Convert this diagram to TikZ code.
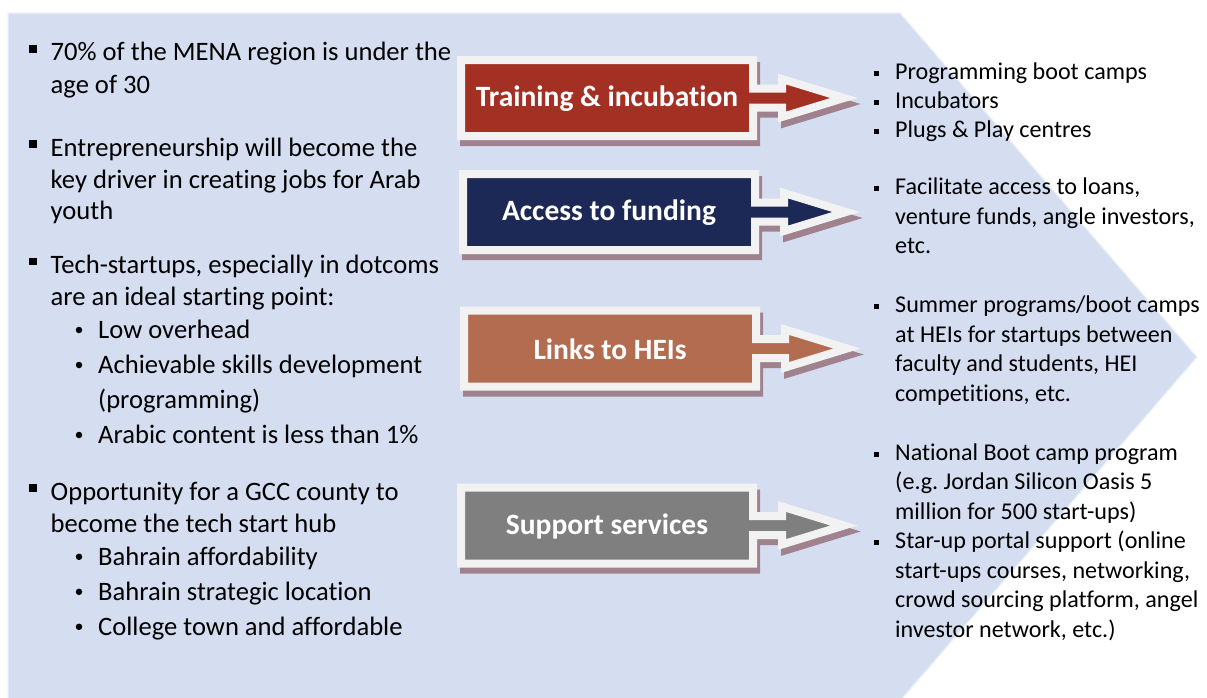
\documentclass[tikz,border=0pt]{standalone}
\usepackage{fontspec}
\setmainfont{Carlito}[Ligatures=NoCommon]
\definecolor{bgblue}{RGB}{213,222,241}
\definecolor{rimwhite}{RGB}{242,242,242}
\definecolor{shadowc}{RGB}{160,130,142}
\definecolor{cRed}{RGB}{163,48,35}
\definecolor{cNavy}{RGB}{28,40,86}
\definecolor{cBrown}{RGB}{180,108,80}
\definecolor{cGray}{RGB}{127,127,127}
\tikzset{
  lefttext/.style={anchor=base west,inner sep=0pt,font=\fontsize{26.6}{30}\selectfont,text=black},
  righttext/.style={anchor=base west,inner sep=0pt,font=\fontsize{24.1}{28}\selectfont,text=black},
  tilelabel/.style={font=\bfseries\fontsize{29.5}{32}\selectfont,text=white,inner sep=0pt},
  bigsq/.style={fill=black,draw=none,minimum size=7.5pt,inner sep=0pt},
  smallsq/.style={fill=black,draw=none,minimum size=5pt,inner sep=0pt},
  dotb/.style={circle,fill=black,draw=none,minimum size=6.5pt,inner sep=0pt},
  tileshadow/.style={fill=shadowc,draw=shadowc,line width=8pt,line join=miter,miter limit=20},
  tilebody/.style={draw=rimwhite,line width=8pt,line join=miter,miter limit=20}
}
\newcommand\TileArrow[5]{%
  \begin{scope}[shift={(#2,#3)}]
    \path[tileshadow,shift={(3,6)}] (-146,-38) -- (146,-38) -- (146,-9.5) -- (175,-9.5) -- (175,-19) -- (237,0) -- (175,19) -- (175,9.5) -- (146,9.5) -- (146,38) -- (-146,38) -- cycle;
    \path[tilebody,fill=#4] (-146,-38) -- (146,-38) -- (146,-9.5) -- (175,-9.5) -- (175,-19) -- (237,0) -- (175,19) -- (175,9.5) -- (146,9.5) -- (146,38) -- (-146,38) -- cycle;
    \node[tilelabel] (#1) at (0,1) {#5};
    \coordinate (#1tip) at (237,0);
  \end{scope}}
\begin{document}
\begin{tikzpicture}[x=1pt,y=-1pt]
\useasboundingbox (0,0) rectangle (1207,697);
\fill[white] (0,0) rectangle (1207,697);
\path[fill=bgblue,draw=white!55!bgblue,line width=1.2pt] (8,13) -- (900,13) -- (1197,357) -- (900,701) -- (8,701) -- cycle;

% tiles
\TileArrow{train}{607}{98}{cRed}{Training \& incubation}
\TileArrow{fund}{609}{212}{cNavy}{Access to funding}
\TileArrow{hei}{610}{348.5}{cBrown}{Links to HEIs}
\TileArrow{supp}{607}{525.5}{cGray}{Support services}

% left column
\begin{scope}[yshift=-1.5pt]
\node[bigsq] (b1) at (33,47.5) {};
\node[lefttext] (l1a) at (50.5,59.3) {70\% of the MENA region is under the};
\node[lefttext] (l1b) at (50.5,92) {age of 30};
\node[bigsq] (b2) at (33,142.5) {};
\node[lefttext] (l2a) at (50.5,154.5) {Entrepreneurship will become the};
\node[lefttext] (l2b) at (50.5,186.5) {key driver in creating jobs for Arab};
\node[lefttext] (l2c) at (50.5,218) {youth};
\node[bigsq] (b3) at (33,260) {};
\node[lefttext] (l3a) at (50.5,271.7) {Tech-startups, especially in dotcoms};
\node[lefttext] (l3b) at (50.5,303.5) {are an ideal starting point:};
\node[dotb] (d31) at (79,328.5) {};
\node[lefttext] (l3c) at (98,336.7) {Low overhead};
\node[dotb] (d32) at (79,363.5) {};
\node[lefttext] (l3d) at (98,371.7) {Achievable skills development};
\node[lefttext] (l3e) at (98,406.7) {(programming)};
\node[dotb] (d33) at (79,433.5) {};
\node[lefttext] (l3f) at (98,441.7) {Arabic content is less than 1\%};
\node[bigsq] (b4) at (33,486.5) {};
\node[lefttext] (l4a) at (50.5,498.5) {Opportunity for a GCC county to};
\node[lefttext] (l4b) at (50.5,530.5) {become the tech start hub};
\node[dotb] (d41) at (79,555.3) {};
\node[lefttext] (l4c) at (98,563.5) {Bahrain affordability};
\node[dotb] (d42) at (79,590.3) {};
\node[lefttext] (l4d) at (98,598.5) {Bahrain strategic location};
\node[dotb] (d43) at (79,625.3) {};
\node[lefttext] (l4e) at (98,633.5) {College town and affordable};
\end{scope}

% right column
\begin{scope}[yshift=-2.5pt]
\node[smallsq] (r11) at (876.5,70.5) {};
\node[righttext] (t11) at (895,76.5) {Programming boot camps};
\node[smallsq] (r12) at (876.5,99.5) {};
\node[righttext] (t12) at (895,105.5) {Incubators};
\node[smallsq] (r13) at (876.5,128.5) {};
\node[righttext] (t13) at (895,134.5) {Plugs \& Play centres};

\node[smallsq] (r21) at (876.5,186) {};
\node[righttext] (t21) at (895,192) {Facilitate access to loans,};
\node[righttext] (t22) at (895,221.5) {venture funds, angle investors,};
\node[righttext] (t23) at (895,251) {etc.};

\node[smallsq] (r31) at (876.5,304) {};
\node[righttext] (t31) at (895,310) {Summer programs/boot camps};
\node[righttext] (t32) at (895,339.5) {at HEIs for startups between};
\node[righttext] (t33) at (895,369) {faculty and students, HEI};
\node[righttext] (t34) at (895,398.5) {competitions, etc.};

\node[smallsq] (r41) at (876.5,451.5) {};
\node[righttext] (t41) at (895,457.5) {National Boot camp program};
\node[righttext] (t42) at (895,487) {(e.g.\ Jordan Silicon Oasis 5};
\node[righttext] (t43) at (895,516.5) {million for 500 start-ups)};
\node[smallsq] (r42) at (876.5,540) {};
\node[righttext] (t44) at (895,546) {Star-up portal support (online};
\node[righttext] (t45) at (895,575.5) {start-ups courses, networking,};
\node[righttext] (t46) at (895,605) {crowd sourcing platform, angel};
\node[righttext] (t47) at (895,634.5) {investor network, etc.)};
\end{scope}
\end{tikzpicture}
\end{document}
